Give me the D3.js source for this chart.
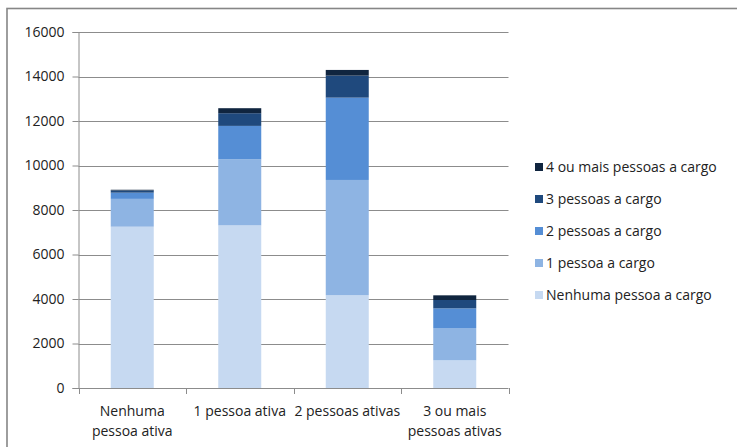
<!DOCTYPE html>
<html>
<head>
<meta charset="utf-8">
<script src="https://cdn.jsdelivr.net/npm/d3@7"></script>
<style>
html,body{margin:0;padding:0;background:#fff;}
svg{display:block;}
text{font-family:"Open Sans",Lato,sans-serif;font-size:14px;fill:#222;}
</style>
</head>
<body>
<svg id="chart" width="737" height="447"></svg>
<script>
const categories = [["Nenhuma","pessoa ativa"],["1 pessoa ativa"],["2 pessoas ativas"],["3 ou mais","pessoas ativas"]];
const seriesNames = ["Nenhuma pessoa a cargo","1 pessoa a cargo","2 pessoas a cargo","3 pessoas a cargo","4 ou mais pessoas a cargo"];
const nenhuma   = [7250, 7310, 4170, 1245];
const umaPessoa = [1250, 2970, 5180, 1450];
const duas      = [280, 1500, 3700, 885];
const tres      = [100, 570, 990, 375];
const quatroMais= [30, 225, 255, 210];
const yTicks = [0,2000,4000,6000,8000,10000,12000,14000,16000];
const colors = ["#c6d9f1","#8eb4e3","#558ed5","#1f497d","#10253f"];

const seriesValues = [nenhuma, umaPessoa, duas, tres, quatroMais];
const table = categories.map((c,i)=>{
  const row = {cat:i};
  seriesNames.forEach((s,j)=>row[s]=seriesValues[j][i]);
  return row;
});

const svg = d3.select("#chart");
// outer border
svg.append("rect").attr("x",7).attr("y",8.5).attr("width",740).attr("height",450)
  .attr("fill","none").attr("stroke","#868686").attr("stroke-width",1.6);

const pLeft=78.5, pRight=508.5, pTop=32, pBottom=388;
const x = d3.scaleBand().domain(d3.range(categories.length)).range([pLeft,pRight]).paddingInner(0.6).paddingOuter(0.3);
const xOuter = d3.scaleBand().domain(d3.range(categories.length)).range([pLeft,pRight]);
const y = d3.scaleLinear().domain([0,16000]).range([pBottom,pTop]);

// gridlines
svg.append("g").selectAll("line").data(yTicks.filter(d=>d>0)).join("line")
  .attr("x1",pLeft).attr("x2",pRight).attr("y1",d=>Math.round(y(d))+0.5).attr("y2",d=>Math.round(y(d))+0.5)
  .attr("stroke","#8c8c8c").attr("stroke-width",1);

// bars
const stack = d3.stack().keys(seriesNames)(table);
svg.append("g").selectAll("g").data(stack).join("g")
  .attr("fill",(d,i)=>colors[i])
  .selectAll("rect").data(d=>d).join("rect")
  .attr("x",d=>x(d.data.cat)).attr("width",x.bandwidth())
  .attr("y",d=>y(d[1])).attr("height",d=>y(d[0])-y(d[1]));

// y axis
const yAxis = d3.axisLeft(y).tickValues(yTicks).tickSize(6).tickPadding(8).tickFormat(d3.format("d"));
const gy = svg.append("g").attr("transform",`translate(${pLeft},0)`).call(yAxis);
gy.select(".domain").attr("stroke","#8c8c8c");
gy.selectAll(".tick line").attr("stroke","#8c8c8c");
gy.selectAll("text").attr("font-family","'Open Sans', sans-serif").attr("font-size",14).attr("fill","#222");

// x axis baseline + ticks at category boundaries
svg.append("line").attr("x1",pLeft).attr("x2",pRight).attr("y1",pBottom+0.5).attr("y2",pBottom+0.5).attr("stroke","#8c8c8c");
const bounds = d3.range(categories.length+1).map(i=> i<categories.length ? xOuter(i) : pRight);
svg.append("g").selectAll("line").data(bounds).join("line")
  .attr("x1",d=>Math.round(d)+0.5).attr("x2",d=>Math.round(d)+0.5).attr("y1",pBottom).attr("y2",pBottom+6)
  .attr("stroke","#8c8c8c");

// x labels
const xl = svg.append("g").selectAll("text").data(categories).join("text")
  .attr("text-anchor","middle")
  .attr("x",(d,i)=>xOuter(i)+xOuter.bandwidth()/2)
  .attr("y",416);
xl.selectAll("tspan").data(d=>d).join("tspan")
  .attr("x",function(){return this.parentNode.getAttribute("x");})
  .attr("dy",(d,i)=>i===0?0:20).text(d=>d);

// legend
const legendItems = seriesNames.map((s,i)=>({name:s,color:colors[i]})).reverse();
const lg = svg.append("g").selectAll("g").data(legendItems).join("g")
  .attr("transform",(d,i)=>`translate(535,${167+i*32})`);
lg.append("rect").attr("x",0).attr("y",-4).attr("width",8).attr("height",8).attr("fill",d=>d.color);
lg.append("text").attr("x",11).attr("y",5).text(d=>d.name);
</script>
</body>
</html>
